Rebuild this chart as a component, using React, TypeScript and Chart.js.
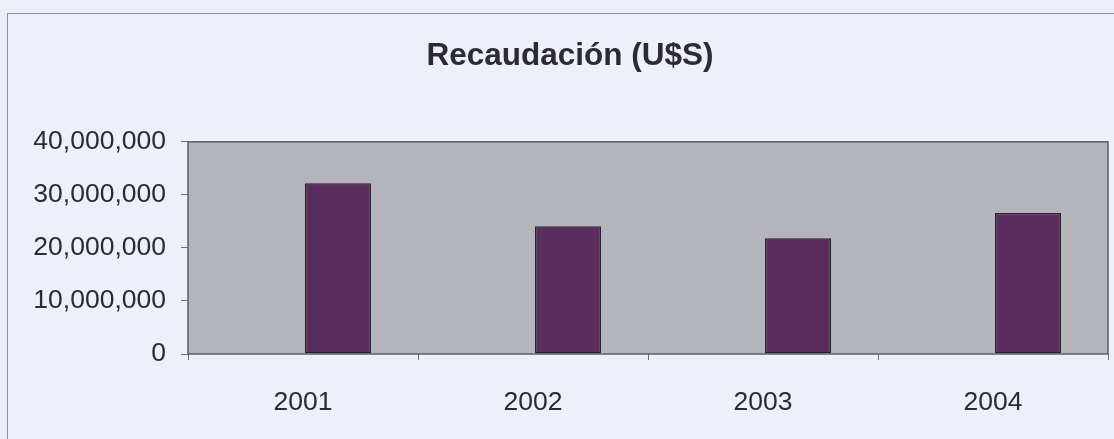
import React, { useEffect, useRef } from "react";
import { Chart, registerables } from "chart.js";

Chart.register(...registerables);

const years = ["2001", "2002", "2003", "2004"];
const recaudacion = [32200000, 24100000, 21800000, 26600000];
const emptySeries = [null, null, null, null];
const yTicks = [0, 10000000, 20000000, 30000000, 40000000];
const titleText = "Recaudación (U$S)";

const FONT = "Arial, 'Liberation Sans', Helvetica, sans-serif";

const plotBg = {
  id: "plotBg",
  beforeDatasetsDraw(chart: any) {
    const { ctx, chartArea: a } = chart;
    ctx.save();
    ctx.fillStyle = "#b3b5ba";
    ctx.fillRect(a.left, a.top, a.right - a.left, a.bottom - a.top);
    ctx.restore();
  },
  afterDatasetsDraw(chart: any) {
    const { ctx, chartArea: a } = chart;
    ctx.save();
    ctx.strokeStyle = "#5e6066";
    ctx.lineWidth = 1.5;
    ctx.strokeRect(a.left, a.top, a.right - a.left, a.bottom - a.top);
    ctx.restore();
  },
};

export default function App() {
  const ref = useRef<HTMLCanvasElement | null>(null);

  useEffect(() => {
    document.body.style.margin = "0";
    const chart = new Chart(ref.current as HTMLCanvasElement, {
      type: "bar",
      data: {
        labels: years,
        datasets: [
          {
            label: "",
            data: emptySeries as any,
            backgroundColor: "transparent",
          },
          {
            label: titleText,
            data: recaudacion,
            backgroundColor: "#5b2d5e",
            borderColor: "#26222a",
            borderWidth: 1.5,
            borderSkipped: false,
          },
        ],
      },
      options: {
        animation: false,
        responsive: false,
        maintainAspectRatio: false,
        layout: { padding: { left: 32, right: 6, top: 0, bottom: 0 } },
        datasets: {
          bar: { categoryPercentage: 0.609, barPercentage: 0.943 },
        },
        plugins: {
          legend: { display: false },
          tooltip: { enabled: false },
          title: {
            display: true,
            text: titleText,
            color: "#2b2b30",
            font: { family: FONT, size: 31.5, weight: "bold" },
            padding: { top: 37, bottom: 67 },
          },
        },
        scales: {
          x: {
            offset: true,
            afterFit(scale: any) {
              scale.height = 85;
            },
            grid: {
              offset: true,
              drawOnChartArea: false,
              drawTicks: true,
              tickLength: 6,
              color: "#6a6c72",
            },
            border: { display: false },
            ticks: {
              color: "#2b2b30",
              font: { family: FONT, size: 26.5 },
              padding: 27,
              maxRotation: 0,
            },
          },
          y: {
            min: 0,
            max: 40000000,
            afterFit(scale: any) {
              scale.width = 156;
            },
            afterBuildTicks(scale: any) {
              scale.ticks = yTicks.map((v) => ({ value: v }));
            },
            grid: {
              drawOnChartArea: false,
              drawTicks: true,
              tickLength: 7,
              color: "#6a6c72",
            },
            border: { display: false },
            ticks: {
              color: "#2b2b30",
              font: { family: FONT, size: 26.5 },
              padding: 15,
              callback: (v: any) => Number(v).toLocaleString("en-US"),
            },
          },
        },
      },
      plugins: [plotBg],
    });
    return () => chart.destroy();
  }, []);

  return (
    <div
      style={{
        position: "relative",
        width: 1114,
        height: 439,
        background: "#eef0f9",
        overflow: "hidden",
      }}
    >
      <div
        style={{
          position: "absolute",
          left: 7,
          top: 13,
          width: 1200,
          height: 600,
          borderLeft: "1.5px solid #8d8f97",
          borderTop: "1.5px solid #8d8f97",
        }}
      />
      <canvas
        ref={ref}
        width={1114}
        height={439}
        style={{ position: "absolute", left: 0, top: 0, display: "block" }}
      />
    </div>
  );
}
